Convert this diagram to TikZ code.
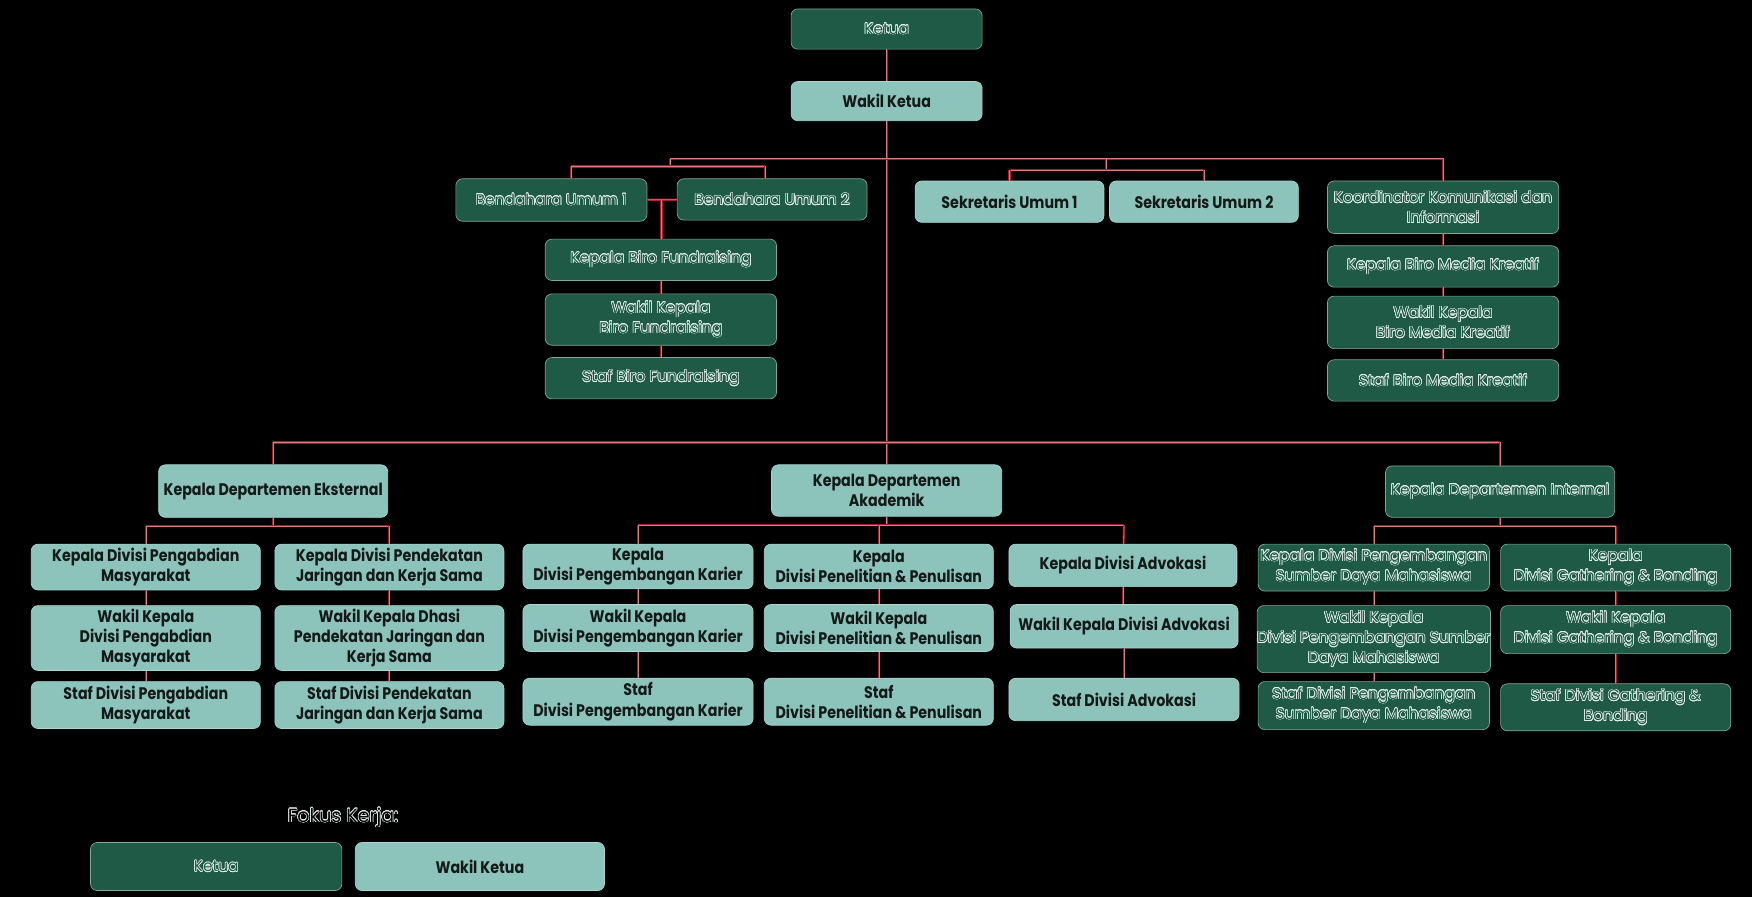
\documentclass[tikz,border=0pt]{standalone}
\usepackage{fontspec}
\usepackage[copies]{contour}
\newfontfamily\dfont{Poppins}
\newfontfamily\lfont[FakeStretch=0.85]{Poppins}
\definecolor{dgreen}{HTML}{1E5A46}
\definecolor{dborder}{HTML}{7FA898}
\definecolor{lteal}{HTML}{8CC4BC}
\definecolor{lborder}{HTML}{A9D6CF}
\definecolor{ltext}{HTML}{141A18}
\definecolor{olc}{HTML}{E4F0EC}
\definecolor{redline}{HTML}{A8192A}
\definecolor{pinkc}{HTML}{DC7A85}
\contourlength{0.5pt}
\newcommand\ol[1]{\contour{olc}{#1}}
\tikzset{
  dbox/.style 2 args={draw=dborder, line width=0.6pt, fill=dgreen, rounded corners=6pt,
    minimum width=#1pt, minimum height=#2pt, inner sep=0pt, align=center,
    text=dgreen, font=\dfont\fontsize{13.8}{18}\selectfont},
  lbox/.style 2 args={draw=lborder, line width=0.6pt, fill=lteal, rounded corners=6pt,
    minimum width=#1pt, minimum height=#2pt, inner sep=0pt, align=center,
    text=ltext, font=\lfont\bfseries\fontsize{15}{18}\selectfont},
  conn/.style={draw=redline, line width=0.7pt, double=pinkc, double distance=0.5pt}
}
\begin{document}
\begin{tikzpicture}[x=1pt,y=-1pt]
\fill[black] (0,0) rectangle (1568,803);
\useasboundingbox (0,0) rectangle (1568,803);
% top
\node[dbox={171}{36}] (ketua) at (793.5,26) {\ol{Ketua}};
\node[lbox={171}{35}] (wakil) at (793.5,90.5) {Wakil Ketua};
% bendahara
\node[dbox={171}{38}] (b1) at (493.5,179) {\ol{Bendahara Umum 1}};
\node[dbox={170}{37}] (b2) at (691,178.5) {\ol{Bendahara Umum 2}};
\node[dbox={207}{37}] (kbf) at (591.5,232.5) {\ol{Kepala Biro Fundraising}};
\node[dbox={207}{46}] (wkbf) at (591.5,286) {\ol{Wakil Kepala}\\\ol{Biro Fundraising}};
\node[dbox={207}{37}] (sbf) at (591.5,338.5) {\ol{Staf Biro Fundraising}};
% sekretaris
\node[lbox={169}{37}] (s1) at (903.5,180.5) {Sekretaris Umum 1};
\node[lbox={169}{37}] (s2) at (1077.5,180.5) {Sekretaris Umum 2};
% koordinator
\node[dbox={207}{47}] (koord) at (1291.5,185.5) {\ol{Koordinator Komunikasi dan}\\\ol{Informasi}};
\node[dbox={207}{37}] (kbmk) at (1291.5,238.5) {\ol{Kepala Biro Media Kreatif}};
\node[dbox={207}{47}] (wkbmk) at (1291.5,288.5) {\ol{Wakil Kepala}\\\ol{Biro Media Kreatif}};
\node[dbox={207}{37}] (sbmk) at (1291.5,340.5) {\ol{Staf Biro Media Kreatif}};
% departments
\node[lbox={205}{47}] (kde) at (244.5,439.5) {Kepala Departemen Eksternal};
\node[lbox={206}{46}] (kda) at (793.5,439) {Kepala Departemen\\Akademik};
\node[dbox={205}{46}] (kdi) at (1342.5,440) {\ol{Kepala Departemen Internal}};
% eksternal
\node[lbox={205}{41}] (e1) at (130.5,507.5) {Kepala Divisi Pengabdian\\Masyarakat};
\node[lbox={205}{41}] (e2) at (348.5,507.5) {Kepala Divisi Pendekatan\\Jaringan dan Kerja Sama};
\node[lbox={205}{58}] (e1w) at (130.5,571) {Wakil Kepala\\Divisi Pengabdian\\Masyarakat};
\node[lbox={205}{58}] (e2w) at (348.5,571) {Wakil Kepala Dhasi\\Pendekatan Jaringan dan\\Kerja Sama};
\node[lbox={205}{42}] (e1s) at (130.5,631) {Staf Divisi Pengabdian\\Masyarakat};
\node[lbox={205}{42}] (e2s) at (348.5,631) {Staf Divisi Pendekatan\\Jaringan dan Kerja Sama};
% akademik
\node[lbox={206}{40}] (a1) at (571,507) {Kepala\\Divisi Pengembangan Karier};
\node[lbox={205}{40}] (a2) at (786.5,507) {Kepala\\Divisi Penelitian \& Penulisan};
\node[lbox={204}{38}] (a3) at (1005,506) {Kepala Divisi Advokasi};
\node[lbox={206}{42}] (a1w) at (571,562) {Wakil Kepala\\Divisi Pengembangan Karier};
\node[lbox={205}{42}] (a2w) at (786.5,562) {Wakil Kepala\\Divisi Penelitian \& Penulisan};
\node[lbox={204}{39}] (a3w) at (1006,560.5) {Wakil Kepala Divisi Advokasi};
\node[lbox={206}{42}] (a1s) at (571,628) {Staf\\Divisi Pengembangan Karier};
\node[lbox={205}{42}] (a2s) at (786.5,628) {Staf\\Divisi Penelitian \& Penulisan};
\node[lbox={206}{38}] (a3s) at (1006,626) {Staf Divisi Advokasi};
% internal
\node[dbox={207}{42}] (i1) at (1229.5,508) {\ol{Kepala Divisi Pengembangan}\\\ol{Sumber Daya Mahasiswa}};
\node[dbox={206}{42}] (i2) at (1446,508) {\ol{Kepala}\\\ol{Divisi Gathering \& Bonding}};
\node[dbox={207}{60}] (i1w) at (1229.5,572) {\ol{Wakil Kepala}\\\ol{Divisi Pengembangan Sumber}\\\ol{Daya Mahasiswa}};
\node[dbox={206}{43}] (i2w) at (1446,563.5) {\ol{Wakil Kepala}\\\ol{Divisi Gathering \& Bonding}};
\node[dbox={207}{43}] (i1s) at (1229.5,631.5) {\ol{Staf Divisi Pengembangan}\\\ol{Sumber Daya Mahasiswa}};
\node[dbox={206}{42}] (i2s) at (1446,633) {\ol{Staf Divisi Gathering \&}\\\ol{Bonding}};
% legend
\node[text=black, font=\dfont\fontsize{17}{20}\selectfont, inner sep=0pt] (fokus) at (307,732) {\contour{olc}{Fokus Kerja:}};
\node[dbox={225}{43}] (l1) at (193.5,775.5) {\ol{Ketua}};
\node[lbox={223}{43}] (l2) at (429.5,775.5) {Wakil Ketua};
% coordinates for buses
\coordinate (tl) at (600,142);
\coordinate (tr) at (1291.5,142);
\coordinate (bl) at (511,149);
\coordinate (br) at (685,149);
\coordinate (bj) at (600,149);
\coordinate (sj) at (990,142);
\coordinate (sl) at (903.5,152);
\coordinate (sr) at (1077.5,152);
\coordinate (dl) at (244.5,396);
\coordinate (dr) at (1342.5,396);
\coordinate (el) at (130.5,471);
\coordinate (er) at (348.5,471);
\coordinate (al) at (571,470);
\coordinate (ar) at (1006,470);
\coordinate (il) at (1229.5,471);
\coordinate (ir) at (1446,471);
\coordinate (bfj) at (592,179);
% connectors
\draw[conn] (ketua) -- (wakil);
\draw[conn] (wakil) -- (kda);
\draw[conn] (tl) -- (tr) -- (koord);
\draw[conn] (tl) -- (bj);
\draw[conn] (bl) -- (br);
\draw[conn] (bl) -- (bl |- b1.north);
\draw[conn] (br) -- (br |- b2.north);
\draw[conn] (b1) -- (b2);
\draw[conn] (bfj) -- (bfj |- kbf.north);
\draw[conn] (kbf) -- (wkbf);
\draw[conn] (wkbf) -- (sbf);
\draw[conn] (sj) -- (sj |- sl);
\draw[conn] (sl) -- (sr);
\draw[conn] (sl) -- (s1);
\draw[conn] (sr) -- (s2);
\draw[conn] (koord) -- (kbmk);
\draw[conn] (kbmk) -- (wkbmk);
\draw[conn] (wkbmk) -- (sbmk);
\draw[conn] (dl) -- (dr);
\draw[conn] (dl) -- (kde);
\draw[conn] (dr) -- (kdi);
% eksternal
\draw[conn] (kde) -- (kde.south |- el);
\draw[conn] (el) -- (er);
\draw[conn] (el) -- (e1);
\draw[conn] (er) -- (e2);
\draw[conn] (e1) -- (e1w);
\draw[conn] (e1w) -- (e1s);
\draw[conn] (e2) -- (e2w);
\draw[conn] (e2w) -- (e2s);
% akademik
\draw[conn] (kda) -- (kda.south |- al);
\draw[conn] (al) -- (ar);
\draw[conn] (al) -- (a1);
\draw[conn] (a2 |- al) -- (a2);
\draw[conn] (ar) -- (a3);
\draw[conn] (a1) -- (a1w);
\draw[conn] (a1w) -- (a1s);
\draw[conn] (a2) -- (a2w);
\draw[conn] (a2w) -- (a2s);
\draw[conn] (a3) -- (a3 |- a3w.north);
\draw[conn] (a3w) -- (a3w |- a3s.north);
% internal
\draw[conn] (kdi) -- (kdi.south |- il);
\draw[conn] (il) -- (ir);
\draw[conn] (il) -- (i1);
\draw[conn] (ir) -- (i2);
\draw[conn] (i1) -- (i1w);
\draw[conn] (i1w) -- (i1s);
\draw[conn] (i2) -- (i2w);
\draw[conn] (i2w) -- (i2s);
\end{tikzpicture}
\end{document}
